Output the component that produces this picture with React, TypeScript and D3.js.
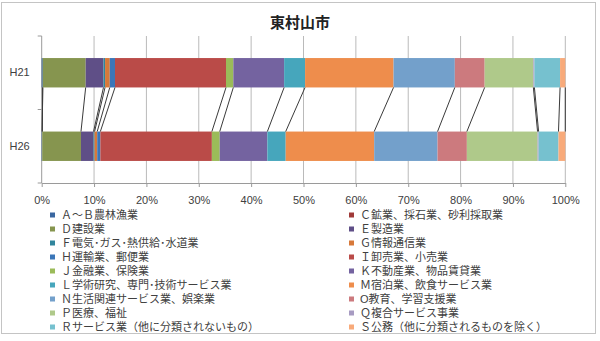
import React, { useRef, useEffect } from "react";
import * as d3 from "d3";

// 産業別構成比（％）
const categories = ["H21", "H26"];
const seriesNames = [
  "Ａ～Ｂ農林漁業",
  "Ｃ鉱業、採石業、砂利採取業",
  "Ｄ建設業",
  "Ｅ製造業",
  "Ｆ電気･ガス･熱供給･水道業",
  "Ｇ情報通信業",
  "Ｈ運輸業、郵便業",
  "Ｉ卸売業、小売業",
  "Ｊ金融業、保険業",
  "Ｋ不動産業、物品賃貸業",
  "Ｌ学術研究、専門･技術サービス業",
  "Ｍ宿泊業、飲食サービス業",
  "Ｎ生活関連サービス業、娯楽業",
  "O教育、学習支援業",
  "Ｐ医療、福祉",
  "Ｑ複合サービス事業",
  "Ｒサービス業（他に分類されないもの）",
  "Ｓ公務（他に分類されるものを除く）",
];
const valuesH21 = [0.2, 0.0, 8.2, 3.4, 0.3, 0.9, 1.0, 21.2, 1.4, 9.7, 4.0, 16.9, 11.7, 5.7, 9.3, 0.2, 4.9, 1.0];
const valuesH26 = [0.1, 0.0, 7.4, 2.4, 0.2, 0.5, 0.6, 21.3, 1.5, 9.1, 3.5, 16.9, 12.1, 5.6, 13.5, 0.2, 3.8, 1.3];
const seriesColors = [
  "#3a67a0", "#a03a38", "#86954f", "#5f4f87", "#31859c", "#d7793a",
  "#3b76b8", "#ba4b48", "#9bbb59", "#7463a0", "#46a6bc", "#ee8d4c",
  "#73a0cb", "#cc7a7e", "#afc98a", "#a79bc2", "#76c1cf", "#f8aa7a",
];
const xTicks = [0, 0.1, 0.2, 0.3, 0.4, 0.5, 0.6, 0.7, 0.8, 0.9, 1];

const App = () => {
  const svgRef = useRef<SVGSVGElement>(null);

  useEffect(() => {
    const svg = d3.select(svgRef.current);
    svg.selectAll("*").remove();

    const W = 600, H = 341;
    const left = 41.7, right = 565.3, top = 36, bottom = 183;

    // outer border
    svg.append("rect")
      .attr("x", 1.5).attr("y", 2.5)
      .attr("width", 594).attr("height", 331)
      .attr("fill", "white")
      .attr("stroke", "#c4c4c4");

    svg.append("text")
      .attr("x", 300).attr("y", 28)
      .attr("text-anchor", "middle")
      .style("font-family", "'Noto Sans CJK JP', sans-serif")
      .style("font-size", "15px")
      .style("font-weight", "bold")
      .attr("fill", "#222")
      .text("東村山市");

    const rows = categories.map((c, i) => {
      const row: any = { cat: c };
      const vals = i === 0 ? valuesH21 : valuesH26;
      seriesNames.forEach((s, j) => (row[s] = vals[j] / 100));
      return row;
    });
    const stacked = d3.stack().keys(seriesNames)(rows);

    const x = d3.scaleLinear().domain([0, 1]).range([left, right]);
    const y = d3.scaleBand().domain(categories).range([top, bottom])
      .paddingInner(0.6).paddingOuter(0.3);

    // gridlines
    svg.append("g")
      .selectAll("line")
      .data(xTicks.slice(1))
      .join("line")
      .attr("x1", (d) => x(d)).attr("x2", (d) => x(d))
      .attr("y1", top).attr("y2", bottom)
      .attr("stroke", "#bababa");

    // x axis
    const xAxis = svg.append("g")
      .attr("transform", `translate(0, ${bottom})`)
      .call(d3.axisBottom(x).tickValues(xTicks).tickFormat(d3.format(".0%"))
        .tickSize(4).tickSizeOuter(0).tickPadding(9));
    xAxis.selectAll("line, path").attr("stroke", "#9a9a9a");
    xAxis.selectAll("text")
      .style("font-family", "'Liberation Sans', Arial, sans-serif")
      .style("font-size", "11px")
      .attr("fill", "#404040");

    // y axis: labels at band centres, ticks at band boundaries
    const yAxis = svg.append("g")
      .attr("transform", `translate(${left}, 0)`)
      .call(d3.axisLeft(y).tickSize(0).tickPadding(12));
    yAxis.select(".domain").remove();
    yAxis.selectAll("text")
      .style("font-family", "'Liberation Sans', Arial, sans-serif")
      .style("font-size", "11px")
      .attr("fill", "#404040");
    const bounds = [0, 1, 2].map((i) => top + i * y.step());
    svg.append("line")
      .attr("x1", left).attr("x2", left).attr("y1", top).attr("y2", bottom)
      .attr("stroke", "#9a9a9a");
    svg.append("g").selectAll("line").data(bounds).join("line")
      .attr("x1", left - 4).attr("x2", left)
      .attr("y1", (d) => d).attr("y2", (d) => d)
      .attr("stroke", "#9a9a9a");

    // bars
    svg.append("g")
      .selectAll("g")
      .data(stacked)
      .join("g")
      .attr("fill", (d, i) => seriesColors[i])
      .selectAll("rect")
      .data((d) => d)
      .join("rect")
      .attr("x", (d) => x(d[0]))
      .attr("width", (d) => x(d[1]) - x(d[0]))
      .attr("y", (d: any) => y(d.data.cat)!)
      .attr("height", y.bandwidth());

    // series lines between the two bars
    svg.append("g")
      .selectAll("line")
      .data(stacked)
      .join("line")
      .attr("x1", (d) => x(d[0][1]))
      .attr("y1", y(categories[0])! + y.bandwidth())
      .attr("x2", (d) => x(d[1][1]))
      .attr("y2", y(categories[1])!)
      .attr("stroke", "#3a3a3a")
      .attr("stroke-width", 1);

    // legend, two columns
    const legend = svg.append("g")
      .style("font-family", "'Liberation Sans', 'Noto Sans CJK JP', sans-serif")
      .style("font-size", "11px");
    seriesNames.forEach((s, i) => {
      const col = i % 2, row = Math.floor(i / 2);
      const lx = col === 0 ? 50 : 349;
      const ly = 215 + row * 14;
      legend.append("rect")
        .attr("x", lx).attr("y", ly - 2.5)
        .attr("width", 5).attr("height", 5)
        .attr("fill", seriesColors[i]);
      legend.append("text")
        .attr("x", lx + 11).attr("y", ly)
        .attr("dy", "0.36em")
        .attr("fill", "#404040")
        .text(s);
    });

    svg.attr("width", W).attr("height", H);
  }, []);

  return (
    <svg
      ref={svgRef}
      width={600}
      height={341}
      style={{ position: "absolute", left: 0, top: 0, display: "block", background: "white" }}
    ></svg>
  );
};

export default App;
